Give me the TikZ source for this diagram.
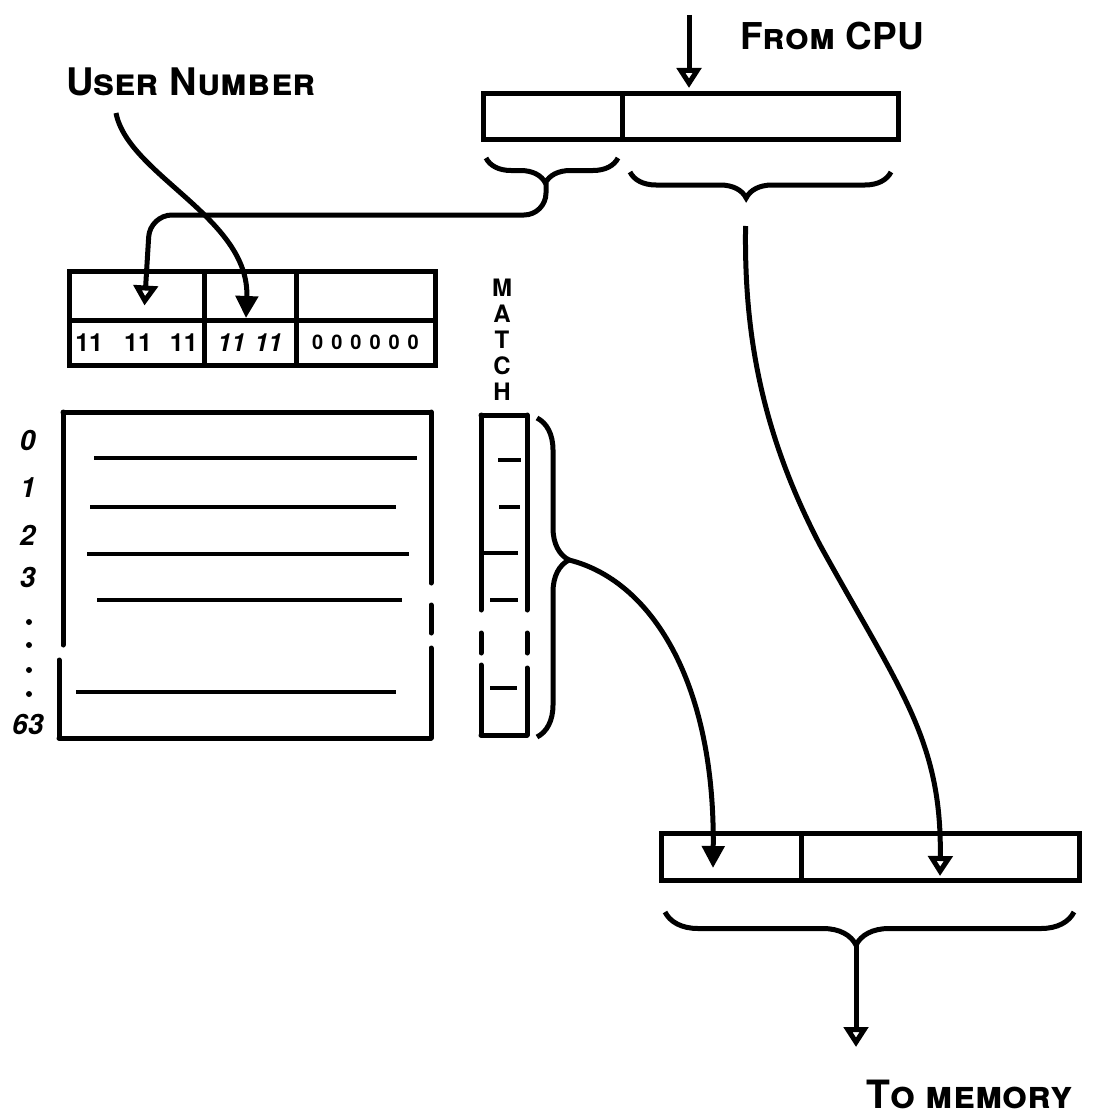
\documentclass[tikz,border=0pt]{standalone}
\usepackage{fontspec}
\setmainfont{TeX Gyre Heros}
\usetikzlibrary{arrows.meta,decorations.pathreplacing}

\begin{document}
\begin{tikzpicture}[x=1pt, y=-1pt,
    cell/.style={draw, line width=5pt, inner sep=0pt, outer sep=0pt},
    rule/.style={line width=3.5pt},
    side/.style={line width=5pt, line cap=round},
    arr/.style={-{Triangle[open,length=20pt,width=24pt]}, line width=5pt},
    arrf/.style={-{Triangle[length=22pt,width=22pt]}, line width=5pt},
    brc/.style={decorate, line width=5pt, decoration={brace, amplitude=#1}},
    hand/.style={font=\fontsize{#1pt}{#1pt}\selectfont\bfseries}
  ]
  \useasboundingbox (0,0) rectangle (1103,1116);

  \node[hand=37] (fromcpu) at (832,36) {\textsc{From CPU}};
  \node[hand=38] (usernum) at (191,82) {\textsc{User Number}};
  \node[hand=39] (tomem) at (970,1094) {\textsc{To memory}};

  \node[cell, minimum width=139pt, minimum height=46pt] (cpuU) at (552.5,116) {};
  \node[cell, minimum width=276pt, minimum height=46pt] (cpuA) at (760,116) {};

  \node[cell, minimum width=135pt, minimum height=49pt] (tagU) at (136.5,295.5) {};
  \node[cell, minimum width=92pt, minimum height=49pt] (tagN) at (250,295.5) {};
  \node[cell, minimum width=139pt, minimum height=49pt] (tagR) at (365.5,295.5) {};
  \node[cell, minimum width=135pt, minimum height=45pt, hand=25] (bitU) at (136.5,342.5)
    {11\hspace{21pt}11\hspace{18pt}11};
  \node[cell, minimum width=92pt, minimum height=45pt, hand=25] (bitN) at (250,342.5)
    {\itshape 11\hspace{9pt}11};
  \node[cell, minimum width=139pt, minimum height=45pt, hand=20] (bitR) at (365.5,342.5)
    {\addfontfeature{LetterSpace=40}000000};

  \node[align=center, font=\fontsize{24pt}{26pt}\selectfont\bfseries] (matchlbl) at (502,340) {M\\A\\T\\C\\H};

  \node[cell, minimum width=140pt, minimum height=47pt] (memU) at (731,856.5) {};
  \node[cell, minimum width=278pt, minimum height=47pt] (memA) at (940,856.5) {};

  \foreach \n/\yy in {0/440, 1/488, 2/535, 3/577, 63/724}
    \node[hand=28] (row\n) at (28,\yy) {\textit{\n}};
  \foreach \yy in {622,645,670,694}
    \fill (29,\yy) circle (3pt);

  \draw[side] (63,412) -- (431,412) (59,738) -- (431,738);
  \draw[side] (63,412) -- (63,645) (59,660) -- (59,738);
  \draw[side] (431,412) -- (431,583) (431,605) -- (431,633) (431,648) -- (431,738);
  \foreach \ya/\xa/\xb in {458/94/417, 507/90/396, 554/87/409, 600/97/402, 692/76/396}
    \draw[rule] (\xa,\ya) -- (\xb,\ya);

  \draw[side] (481,415) -- (527,415) (481,735) -- (527,735);
  \draw[side] (481,415) -- (481,610) (481,633) -- (481,653) (481,665) -- (481,735);
  \draw[side] (527,415) -- (527,610) (527,633) -- (527,653) (527,668) -- (527,735);
  \foreach \ya/\xa/\xb in {460/498/521, 507/499/520, 553/483/518, 600/490/518, 688/490/517}
    \draw[rule] (\xa,\ya) -- (\xb,\ya);

  \draw[brc=25pt, decoration={mirror, aspect=0.45}] (486,158) -- (618,158);
  \draw[brc=26pt, decoration={mirror, aspect=0.445}] (630,172) -- (891,172);
  \draw[brc=32pt, decoration={aspect=0.445}] (537,418) -- (537,737);
  \draw[brc=33pt, decoration={mirror, aspect=0.467}] (665,912) -- (1074,912);

  \coordinate (tipU) at (546,183);
  \coordinate (tipA) at (746,198);
  \coordinate (tipH) at (569,560);
  \coordinate (tipO) at (856,945);
  \coordinate (cpuin) at (689,15);
  \coordinate (unumtail) at (116,113);
  \coordinate (memout) at (856,1047);

  \draw[arr, shorten >=5pt] (cpuin) -- (cpuin |- cpuA.north);
  \draw[arr, rounded corners=22pt] (tipU) |- (150,215) -- ([xshift=8pt,yshift=-10pt]tagU.center);
  \draw[arrf] (unumtail) .. controls (128,175) and (250,218) .. ([xshift=-4pt,yshift=2pt]tagN.south);
  \draw[arrf] (tipH) .. controls (650,580) and (715,680) .. ([xshift=-18pt,yshift=12pt]memU.south);
  \draw[arr, shorten <=28pt] (tipA) .. controls (744,330) and (760,430) .. (820,545)
    .. controls (900,690) and (942,740) .. ([yshift=4pt]memA.south);
  \draw[arr] (tipO) -- (memout);
\end{tikzpicture}
\end{document}
